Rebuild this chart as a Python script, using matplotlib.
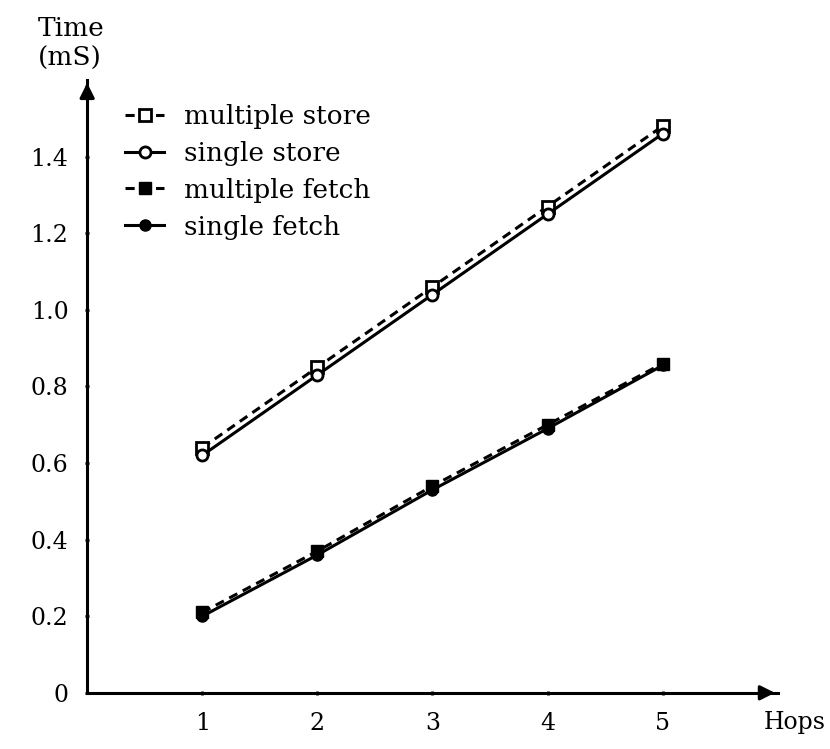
import matplotlib.pyplot as plt

plt.rcParams['font.family'] = ['DejaVu Serif']

hops = [1, 2, 3, 4, 5]
multiple_store = [0.64, 0.85, 1.06, 1.27, 1.48]
single_store = [0.62, 0.83, 1.04, 1.25, 1.46]
multiple_fetch = [0.21, 0.37, 0.54, 0.70, 0.86]
single_fetch = [0.20, 0.36, 0.53, 0.69, 0.855]

y_ticks = [0, 0.2, 0.4, 0.6, 0.8, 1.0, 1.2, 1.4]
y_labels = ["0", "0.2", "0.4", "0.6", "0.8", "1.0", "1.2", "1.4"]

fig = plt.figure(figsize=(8.3, 7.49), dpi=100)
ax = fig.add_axes([0.105, 0.075, 0.832, 0.818])

ax.plot(hops, multiple_store, linestyle=(0, (3, 2)), color="black", lw=2.2,
        marker="s", ms=8, mfc="white", mec="black", mew=2, label="multiple store")
ax.plot(hops, single_store, linestyle="-", color="black", lw=2.2,
        marker="o", ms=8, mfc="white", mec="black", mew=2, label="single store")
ax.plot(hops, multiple_fetch, linestyle=(0, (3, 2)), color="black", lw=2.2,
        marker="s", ms=8, mfc="black", mec="black", label="multiple fetch")
ax.plot(hops, single_fetch, linestyle="-", color="black", lw=2.2,
        marker="o", ms=8, mfc="black", mec="black", label="single fetch")

ax.set_xlim(0, 6)
ax.set_ylim(0, 1.6)
ax.set_xticks(hops)
ax.set_yticks(y_ticks)
ax.set_yticklabels(y_labels)
ax.tick_params(labelsize=17, length=3, width=2, direction="inout", pad=12)

for s in ["top", "right"]:
    ax.spines[s].set_visible(False)
for s in ["left", "bottom"]:
    ax.spines[s].set_linewidth(2.2)

# axis arrows
ax.annotate("", xy=(1.0, 0), xytext=(0.98, 0), xycoords="axes fraction",
            arrowprops=dict(arrowstyle="-|>", color="black", lw=2.2, mutation_scale=22))
ax.annotate("", xy=(0, 1.0), xytext=(0, 0.98), xycoords="axes fraction",
            arrowprops=dict(arrowstyle="-|>", color="black", lw=2.2, mutation_scale=22))

fig.text(0.046, 0.905, "Time\n(mS)", fontsize=19, ha="left", va="bottom", linespacing=1.25)
fig.text(0.995, 0.036, "Hops", fontsize=17, ha="right", va="center")

ax.legend(loc="upper left", bbox_to_anchor=(0.02, 1.0), frameon=False, fontsize=19,
          handlelength=1.5, handletextpad=0.75, labelspacing=0.45)

fig.savefig("out.png", dpi=100)
